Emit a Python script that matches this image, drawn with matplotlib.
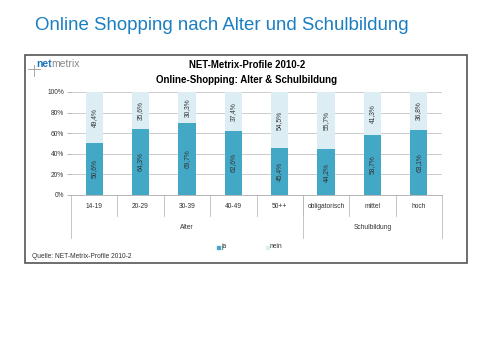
import numpy as np
import matplotlib
matplotlib.use('Agg')
from matplotlib import pyplot as plt
from matplotlib.patches import Rectangle
from matplotlib.lines import Line2D

plt.rcParams['font.family'] = ['Liberation Sans', 'DejaVu Sans']

categories = ["14-19", "20-29", "30-39", "40-49", "50++", "obligatorisch", "mittel", "hoch"]
groups = ["Alter", "Schulbildung"]
group_sizes = [5, 3]
ja = [50.6, 64.3, 69.7, 62.6, 45.4, 44.2, 58.7, 63.1]
nein = [49.4, 35.6, 30.3, 37.4, 54.5, 55.7, 41.3, 36.8]
yticks = [0, 20, 40, 60, 80, 100]

W, H = 480, 357
fig = plt.figure(figsize=(W / 100, H / 100), dpi=100)

def fx(px):
    return px / W

def fy(py):
    return 1 - py / H

# slide title
fig.text(fx(35), fy(26), "Online Shopping nach Alter und Schulbildung",
         color="#1a7fc1", fontsize=13.4, va="center", ha="left")

# embedded chart frame
fig.patches.append(Rectangle((fx(25), fy(263)), fx(467) - fx(25), fy(55) - fy(263),
                             transform=fig.transFigure, fill=False,
                             edgecolor="#555555", linewidth=1.2))

# logo
fig.text(fx(36), fy(64), "net", color="#1b75b8", fontsize=7.5, fontweight="bold",
         va="center", ha="left")
fig.text(fx(51), fy(64), "metrix", color="#888888", fontsize=7.5, va="center", ha="left")
fig.add_artist(Line2D([fx(28), fx(40)], [fy(69), fy(69)], color="#999999", lw=0.6))
fig.add_artist(Line2D([fx(34), fx(34)], [fy(65), fy(76)], color="#999999", lw=0.6))

# chart titles
fig.text(fx(247), fy(65), "NET-Metrix-Profile 2010-2", fontsize=6.9, fontweight="bold",
         ha="center", va="center")
fig.text(fx(247), fy(80), "Online-Shopping: Alter & Schulbildung", fontsize=7.0,
         fontweight="bold", ha="center", va="center")

ax = fig.add_axes([fx(71), fy(195), fx(442) - fx(71), fy(92) - fy(195)])
x = np.arange(len(categories))
ax.bar(x, ja, width=0.37, color="#43a8c6", zorder=3)
ax.bar(x, nein, width=0.37, bottom=ja, color="#dcedf4", zorder=3)

for i in range(len(categories)):
    ax.text(x[i], ja[i] / 2, f"{ja[i]:.1f}%".replace(".", ","), rotation=90,
            ha="center", va="center", fontsize=4.8, color="#333333", zorder=4)
    ax.text(x[i], ja[i] + nein[i] / 2, f"{nein[i]:.1f}%".replace(".", ","), rotation=90,
            ha="center", va="center", fontsize=4.8, color="#333333", zorder=4)

ax.set_xlim(-0.5, len(categories) - 0.5)
ax.set_ylim(0, 100)
ax.set_yticks(yticks)
ax.set_yticklabels([f"{t}%" for t in yticks], fontsize=4.8, color="#333333")
ax.yaxis.grid(True, color="#c4c4c4", linewidth=0.6, zorder=0)
ax.set_xticks([])
for side in ["top", "right", "left"]:
    ax.spines[side].set_visible(False)
ax.spines["bottom"].set_color("#aaaaaa")
ax.spines["bottom"].set_linewidth(0.6)
ax.tick_params(axis="y", length=3, width=0.6, color="#aaaaaa", pad=2)

# category labels and separators (axis coords below the plot)
trans = ax.get_xaxis_transform()
for i, c in enumerate(categories):
    ax.text(x[i], -0.115, c, transform=trans, ha="center", va="center",
            fontsize=4.8, color="#333333", clip_on=False)
for b in range(1, len(categories)):
    ax.add_line(Line2D([b - 0.5, b - 0.5], [0, -0.2], transform=trans,
                       color="#bbbbbb", lw=0.6, clip_on=False))
start = 0
edges = [-0.5]
for g, n in zip(groups, group_sizes):
    mid = start + (n - 1) / 2
    ax.text(mid, -0.32, g, transform=trans, ha="center", va="center",
            fontsize=4.8, color="#333333", clip_on=False)
    start += n
    edges.append(start - 0.5)
for e in edges:
    ax.add_line(Line2D([e, e], [0, -0.42], transform=trans,
                       color="#bbbbbb", lw=0.6, clip_on=False))

# legend
fig.patches.append(Rectangle((fx(217), fy(249)), fx(3), fy(246) - fy(249),
                             transform=fig.transFigure, color="#43a8c6"))
fig.text(fx(221), fy(247), "ja", fontsize=4.8, color="#333333", va="center")
fig.patches.append(Rectangle((fx(266), fy(249)), fx(3), fy(246) - fy(249),
                             transform=fig.transFigure, color="#dcedf4"))
fig.text(fx(270), fy(247), "nein", fontsize=4.8, color="#333333", va="center")

fig.text(fx(32), fy(257), "Quelle: NET-Metrix-Profile 2010-2", fontsize=4.8,
         color="#333333", va="center")

fig.savefig("out.png", dpi=100)
